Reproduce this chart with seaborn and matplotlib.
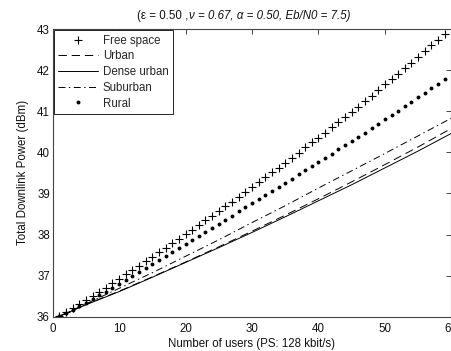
import numpy as np
import pandas as pd
import matplotlib
matplotlib.use("Agg")
import matplotlib.pyplot as plt
import seaborn as sns

# ---------------- data ----------------
users = list(range(1, 60))
free_space = [36.02, 36.12, 36.22, 36.31, 36.41, 36.51, 36.61, 36.71, 36.82, 36.92,
              37.03, 37.14, 37.24, 37.35, 37.46, 37.57, 37.68, 37.79, 37.90, 38.01,
              38.12, 38.23, 38.35, 38.46, 38.57, 38.69, 38.80, 38.92, 39.03, 39.15,
              39.27, 39.39, 39.51, 39.63, 39.75, 39.87, 39.99, 40.12, 40.24, 40.36,
              40.48, 40.61, 40.73, 40.86, 40.98, 41.11, 41.24, 41.37, 41.51, 41.65,
              41.78, 41.91, 42.05, 42.18, 42.32, 42.46, 42.60, 42.74, 42.88]
rural = [36.01, 36.09, 36.17, 36.25, 36.33, 36.42, 36.52, 36.61, 36.71, 36.80,
         36.90, 36.99, 37.09, 37.19, 37.29, 37.38, 37.48, 37.58, 37.68, 37.78,
         37.87, 37.97, 38.07, 38.17, 38.26, 38.36, 38.46, 38.56, 38.66, 38.76,
         38.86, 38.96, 39.06, 39.16, 39.26, 39.36, 39.46, 39.56, 39.66, 39.76,
         39.86, 39.96, 40.07, 40.17, 40.27, 40.38, 40.48, 40.59, 40.69, 40.80,
         40.90, 41.01, 41.12, 41.23, 41.34, 41.45, 41.56, 41.67, 41.78]

users_line = [1, 5, 10, 15, 20, 25, 30, 35, 40, 45, 50, 55, 60]
urban = [36.01, 36.30, 36.62, 36.97, 37.33, 37.70, 38.08, 38.47, 38.87, 39.28, 39.70, 40.13, 40.58]
dense_urban = [36.01, 36.29, 36.61, 36.96, 37.32, 37.68, 38.05, 38.43, 38.82, 39.21, 39.62, 40.03, 40.46]
suburban = [36.01, 36.31, 36.69, 37.07, 37.47, 37.87, 38.29, 38.70, 39.13, 39.55, 39.97, 40.40, 40.83]

x_ticks = [0, 10, 20, 30, 40, 50, 60]
y_ticks = [36, 37, 38, 39, 40, 41, 42, 43]

# ---------------- style ----------------
sns.set_style("white")
plt.rcParams["font.family"] = ["Liberation Sans", "DejaVu Sans"]
plt.rcParams["lines.scale_dashes"] = False

W, H = 451, 351
fig = plt.figure(figsize=(W / 100, H / 100), dpi=100)
left, right, top, bottom = 52.7, 451.3, 29.0, 316.7
ax = fig.add_axes([left / W, 1 - bottom / H, (right - left) / W, (bottom - top) / H])

df_m = pd.DataFrame({"users": users, "free": free_space, "rural": rural})
df_l = pd.DataFrame({"users": users_line, "urban": urban, "dense": dense_urban, "sub": suburban})

sns.lineplot(data=df_m, x="users", y="free", ax=ax, color="black", linestyle="None",
             marker="+", markersize=6, markeredgewidth=0.8, markeredgecolor="black",
             label="Free space")
sns.lineplot(data=df_l, x="users", y="urban", ax=ax, color="black", linewidth=0.7,
             linestyle=(0, (6, 3.5)), label="Urban")
sns.lineplot(data=df_l, x="users", y="dense", ax=ax, color="black", linewidth=0.7,
             linestyle="-", label="Dense urban")
sns.lineplot(data=df_l, x="users", y="sub", ax=ax, color="black", linewidth=0.7,
             linestyle=(0, (5, 2.5, 1, 2.5)), label="Suburban")
sns.lineplot(data=df_m, x="users", y="rural", ax=ax, color="black", linestyle="None",
             marker="o", markersize=2.8, markeredgewidth=0, markerfacecolor="black",
             label="Rural")

ax.set_xlim(0, 60)
ax.set_ylim(36, 43)
ax.set_xticks(x_ticks)
ax.set_yticks(y_ticks)
ax.set_xticklabels([str(t) for t in x_ticks])
ax.set_yticklabels([str(t) for t in y_ticks])

for sp in ax.spines.values():
    sp.set_visible(True)
    sp.set_color("#444444")
    sp.set_linewidth(0.8)

ax.tick_params(axis="both", direction="in", length=3.5, width=0.7, color="#444444",
               top=True, right=True, labelsize=8.3, labelcolor="#111111")
ax.tick_params(axis="x", pad=4.5)
ax.tick_params(axis="y", pad=2)

ax.set_xlabel("Number of users (PS: 128 kbit/s)", fontsize=8.3, color="#111111", labelpad=2)
ax.set_ylabel("Total Downlink Power (dBm)", fontsize=8.3, color="#111111", labelpad=6)

handles, labels = ax.get_legend_handles_labels()
leg = ax.legend(handles, labels, loc="upper left", fontsize=8.3, frameon=True, fancybox=False,
                borderaxespad=0.1, borderpad=0.4, labelspacing=0.32, handlelength=3.4,
                handletextpad=0.45, numpoints=1)
leg.get_frame().set_edgecolor("black")
leg.get_frame().set_linewidth(0.6)
leg.get_frame().set_alpha(1)

# title: upright first part, italic remainder
ty = 1 - 16 / H
fig.text(188 / W, ty, "(ε = 0.50 ,", ha="right", va="center", fontsize=8.3, color="#111111")
fig.text(189 / W, ty, "ν = 0.67, α = 0.50, Eb/N0 = 7.5)", ha="left", va="center",
         fontsize=8.3, style="italic", color="#111111")

fig.savefig("out.png", dpi=100)
